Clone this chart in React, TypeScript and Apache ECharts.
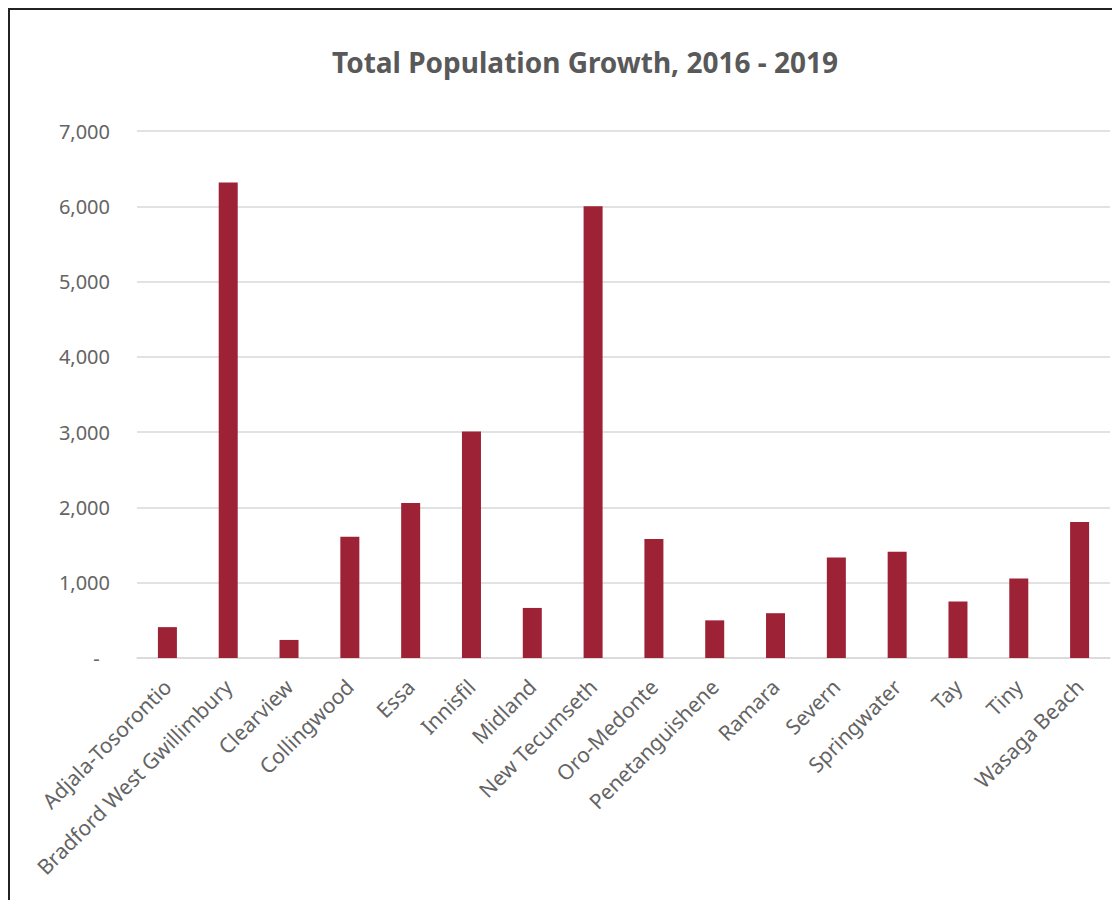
import React, { useEffect, useRef } from "react";
import * as echarts from "echarts";

const categories = [
  "Adjala-Tosorontio",
  "Bradford West Gwillimbury",
  "Clearview",
  "Collingwood",
  "Essa",
  "Innisfil",
  "Midland",
  "New Tecumseth",
  "Oro-Medonte",
  "Penetanguishene",
  "Ramara",
  "Severn",
  "Springwater",
  "Tay",
  "Tiny",
  "Wasaga Beach",
];

const growth = [410, 6315, 240, 1610, 2060, 3010, 665, 6000, 1580, 500, 595, 1335, 1410, 750, 1055, 1805];

const yTicks = { min: 0, max: 7000, interval: 1000 };

const TITLE = "Total Population Growth, 2016 - 2019";
const FONT = "'Noto Sans', sans-serif";
const TEXT_COLOR = "#595959";
const LABEL_COLOR = "#646464";

export default function App() {
  const ref = useRef<HTMLDivElement>(null);

  useEffect(() => {
    document.documentElement.style.overflow = "hidden";
    if (!ref.current) return;
    const chart = echarts.init(ref.current, null, { renderer: "svg" });
    chart.setOption({
      animation: false,
      backgroundColor: "#ffffff",
      title: {
        text: TITLE,
        left: 570,
        top: 33,
        textAlign: "center",
        textStyle: {
          fontFamily: FONT,
          fontSize: 28,
          fontWeight: "bold",
          color: TEXT_COLOR,
        },
      },
      grid: { left: 127, right: 2, top: 121, bottom: 244, containLabel: false },
      xAxis: {
        type: "category",
        data: categories,
        axisLine: { show: true, lineStyle: { color: "#d9d9d9", width: 1.5 } },
        axisTick: { show: false },
        axisLabel: {
          rotate: 45,
          interval: 0,
          margin: 25,
          fontFamily: FONT,
          fontSize: 21,
          color: LABEL_COLOR,
        },
      },
      yAxis: {
        type: "value",
        min: yTicks.min,
        max: yTicks.max,
        interval: yTicks.interval,
        axisLine: { show: false },
        axisTick: { show: false },
        splitLine: { lineStyle: { color: "#d9d9d9", width: 1.5 } },
        axisLabel: {
          margin: 27,
          fontFamily: FONT,
          fontSize: 20,
          color: LABEL_COLOR,
          formatter: (v: number) => (v === 0 ? "-  " : v.toLocaleString("en-US")),
        },
      },
      series: [
        {
          type: "bar",
          data: growth,
          barWidth: 19,
          itemStyle: { color: "#9d2235" },
        },
      ],
    });
    return () => chart.dispose();
  }, []);

  return (
    <div
      style={{
        borderLeft: "2px solid #222",
        borderTop: "2px solid #222",
        height: 892,
        overflow: "hidden",
      }}
    >
      <div ref={ref} style={{ width: "100%", height: 892 }} />
    </div>
  );
}
